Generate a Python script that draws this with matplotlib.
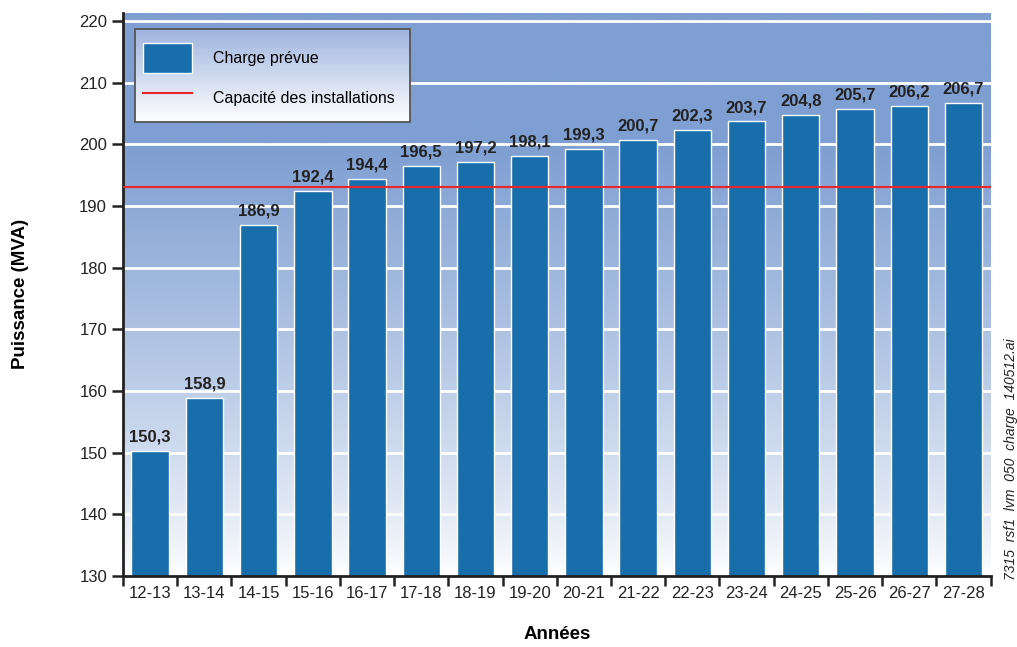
import numpy as np
import matplotlib.pyplot as plt
from matplotlib.colors import LinearSegmentedColormap
from matplotlib.patches import Rectangle

plt.rcParams['font.family'] = ['Liberation Sans', 'DejaVu Sans']

annees = ['12-13', '13-14', '14-15', '15-16', '16-17', '17-18', '18-19', '19-20',
          '20-21', '21-22', '22-23', '23-24', '24-25', '25-26', '26-27', '27-28']
charge = [150.3, 158.9, 186.9, 192.4, 194.4, 196.5, 197.2, 198.1,
          199.3, 200.7, 202.3, 203.7, 204.8, 205.7, 206.2, 206.7]
capacite = 193.0

bar_color = '#186eab'
bg_color = '#7f9fd2'
ymin, ymax = 130, 221.3

fig = plt.figure(figsize=(10.17, 6.47), dpi=100)
ax = fig.add_axes([0.121, 0.11, 0.853, 0.87])

x = np.arange(len(annees))

# fond en dégradé (blanc en bas, bleu en haut)
cmap = LinearSegmentedColormap.from_list('fond', ['#ffffff', bg_color])
yy = np.linspace(ymin, ymax, 300)
grad = np.clip((yy - ymin) / (200 - ymin), 0, 1) ** 0.8
ax.imshow(grad[:, None], extent=(-0.5, len(annees) - 0.5, ymin, ymax), origin='lower',
          aspect='auto', cmap=cmap, vmin=0, vmax=1, zorder=0)

for v in range(140, 221, 10):
    ax.axhline(v, color='white', lw=2, zorder=1)

bars = ax.bar(x, charge, width=0.69, color=bar_color, edgecolor='white', lw=1.0,
              zorder=2, label='Charge prévue')
ligne = ax.axhline(capacite, color='#e8262a', lw=1.5, zorder=3, label='Capacité des installations')

for xi, v in zip(x, charge):
    ax.text(xi, v + 1.0, f'{v:.1f}'.replace('.', ','), ha='center', va='bottom',
            fontsize=12, fontweight='bold', color='#222222', zorder=4)

ax.set_xlim(-0.5, len(annees) - 0.5)
ax.set_ylim(ymin, ymax)
ax.set_yticks(range(130, 221, 10))
ax.set_xticks(np.arange(-0.5, len(annees), 1))
ax.set_xticklabels([])
ax.set_xticks(x, minor=True)
ax.set_xticklabels(annees, minor=True)
ax.tick_params(axis='x', which='major', direction='out', length=7, width=1.8, color='#222222')
ax.tick_params(axis='x', which='minor', length=0, pad=7, labelsize=12, labelcolor='#222222')
ax.tick_params(axis='y', direction='out', length=8, width=1.8, color='#222222',
               labelsize=12, labelcolor='#222222')

for s in ['top', 'right']:
    ax.spines[s].set_visible(False)
for s in ['left', 'bottom']:
    ax.spines[s].set_linewidth(2)
    ax.spines[s].set_color('#222222')

ax.set_ylabel('Puissance (MVA)', fontsize=13.5, fontweight='bold', labelpad=36)
ax.set_xlabel('Années', fontsize=13.5, fontweight='bold', labelpad=18)

# cadre de légende avec dégradé
lx0, lx1, ly0, ly1 = 0.0138, 0.3306, 0.8064, 0.9716
cmap_leg = LinearSegmentedColormap.from_list('leg', ['#ffffff', '#9fb4de'])
ax.imshow(np.linspace(0, 1, 100)[:, None], extent=(lx0, lx1, ly0, ly1), origin='lower',
          transform=ax.transAxes, aspect='auto', cmap=cmap_leg, zorder=4)
ax.add_patch(Rectangle((lx0, ly0), lx1 - lx0, ly1 - ly0, transform=ax.transAxes,
                       fill=False, edgecolor='#555555', lw=1.3, zorder=5))
ax.set_xlim(-0.5, len(annees) - 0.5)
ax.set_ylim(ymin, ymax)

leg = ax.legend([bars, ligne], ['Charge prévue', 'Capacité des installations'],
                loc='center left', bbox_to_anchor=(lx0 + 0.009, (ly0 + ly1) / 2 - 0.005),
                fontsize=11.5, frameon=False, handlelength=3.1, handleheight=2.6,
                labelspacing=0.6, handletextpad=1.3, borderaxespad=0, borderpad=0)
leg.set_zorder(6)

fig.text(0.994, 0.29, '7315  rsf1  lvm  050  charge  140512.ai', rotation=90,
         ha='center', va='center', fontsize=10, style='italic', color='#222222')

fig.savefig('out.png', dpi=100)
